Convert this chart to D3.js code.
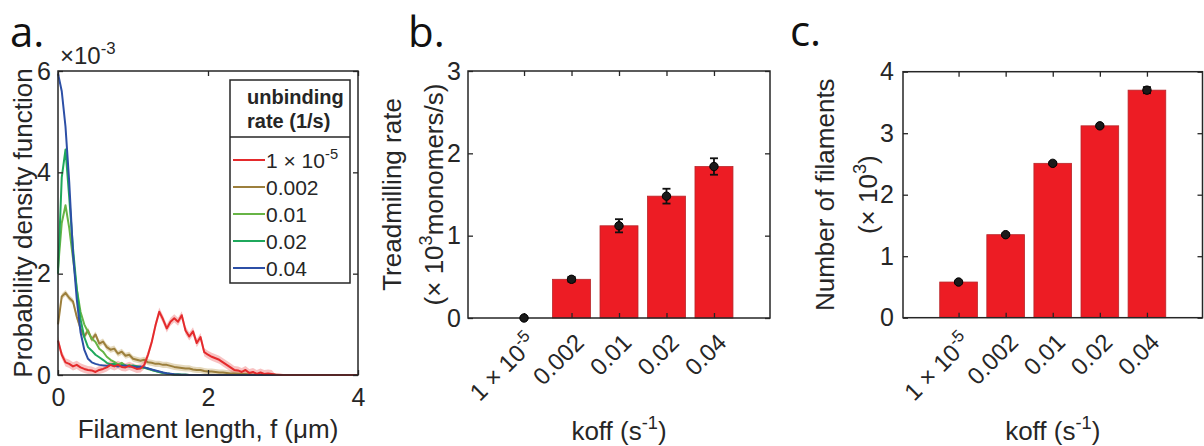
<!DOCTYPE html>
<html>
<head>
<meta charset="utf-8">
<script src="https://cdn.jsdelivr.net/npm/d3@7"></script>
<style>
  body { margin: 0; background: #fff; }
  text { font-family: "Liberation Sans", Arial, sans-serif; fill: #262626; }
  .panel-letter { font-family: "Open Sans", sans-serif; fill: #111; }
</style>
</head>
<body>
<svg id="fig" width="1204" height="446"></svg>
<script>
// ---- panel a data: filament length distribution (x 1e-3) ----
var lengthGrid = [0, 0.05, 0.1, 0.15, 0.2, 0.25, 0.3, 0.35, 0.4, 0.45, 0.5, 0.55, 0.6, 0.65, 0.7, 0.75, 0.8, 0.85, 0.9, 0.95,
  1, 1.05, 1.1, 1.15, 1.2, 1.25, 1.3, 1.35, 1.4, 1.45, 1.5, 1.55, 1.6, 1.65, 1.7, 1.75, 1.8, 1.85, 1.9, 1.95,
  2, 2.05, 2.1, 2.15, 2.2, 2.25, 2.3, 2.35, 2.4, 2.45, 2.5, 2.55, 2.6, 2.65, 2.7, 2.75, 2.8, 2.85, 2.9, 2.95, 3, 4];

var pdfRate1e5 = [0.68, 0.40, 0.25, 0.22, 0.17, 0.20, 0.15, 0.12, 0.10, 0.09, 0.06, 0.10, 0.12, 0.15, 0.20, 0.17, 0.20, 0.16, 0.15, 0.18,
  0.15, 0.12, 0.13, 0.20, 0.40, 0.65, 0.98, 1.25, 1.10, 0.92, 1.05, 1.12, 1.05, 1.18, 0.88, 0.76, 0.86, 0.63, 0.75, 0.45,
  0.40, 0.36, 0.33, 0.30, 0.25, 0.20, 0.15, 0.10, 0.09, 0.06, 0.10, 0.04, 0.06, 0.02, 0.05, 0.02, 0.03, 0.02, 0.01, 0.005, 0, 0];
var pdfRate002 = [1.0, 1.55, 1.62, 1.52, 1.45, 1.15, 0.92, 0.76, 0.88, 0.70, 0.80, 0.62, 0.66, 0.55, 0.50, 0.52, 0.42, 0.46, 0.38, 0.40,
  0.32, 0.30, 0.28, 0.30, 0.25, 0.24, 0.22, 0.22, 0.20, 0.20, 0.18, 0.16, 0.15, 0.14, 0.13, 0.13, 0.11, 0.10, 0.10, 0.08,
  0.07, 0.07, 0.06, 0.05, 0.05, 0.04, 0.03, 0.03, 0.025, 0.02, 0.02, 0.015, 0.01, 0.01, 0.008, 0.006, 0.005, 0.004, 0.003, 0.002, 0.001, 0];
var pdfRate01 = [2.1, 3.0, 3.35, 2.9, 2.3, 1.7, 1.25, 1.0, 0.85, 0.72, 0.65, 0.52, 0.46, 0.36, 0.30, 0.26, 0.21, 0.24, 0.18, 0.20,
  0.17, 0.18, 0.15, 0.14, 0.12, 0.10, 0.08, 0.06, 0.04, 0.03, 0.02, 0.012, 0.008, 0.005, 0.003, 0.002, 0.001, 0, 0, 0,
  0, 0, 0, 0, 0, 0, 0, 0, 0, 0, 0, 0, 0, 0, 0, 0, 0, 0, 0, 0, 0, 0];
var pdfRate02 = [2.0, 3.9, 4.45, 3.5, 2.5, 1.7, 1.1, 0.75, 0.55, 0.48, 0.40, 0.35, 0.30, 0.24, 0.21, 0.22, 0.18, 0.20, 0.18, 0.17,
  0.19, 0.17, 0.16, 0.15, 0.13, 0.10, 0.08, 0.06, 0.045, 0.03, 0.02, 0.012, 0.008, 0.005, 0.003, 0.002, 0.001, 0, 0, 0,
  0, 0, 0, 0, 0, 0, 0, 0, 0, 0, 0, 0, 0, 0, 0, 0, 0, 0, 0, 0, 0, 0];
var pdfRate04 = [5.95, 5.6, 4.9, 3.8, 2.4, 1.5, 0.85, 0.5, 0.32, 0.25, 0.22, 0.20, 0.19, 0.18, 0.20, 0.18, 0.17, 0.18, 0.19, 0.17,
  0.17, 0.16, 0.17, 0.15, 0.13, 0.11, 0.09, 0.07, 0.05, 0.035, 0.025, 0.015, 0.01, 0.006, 0.004, 0.002, 0.001, 0, 0, 0,
  0, 0, 0, 0, 0, 0, 0, 0, 0, 0, 0, 0, 0, 0, 0, 0, 0, 0, 0, 0, 0, 0];
// shaded spread (half width) for each curve
var pdfSpread = [0.08, 0.06, 0.03, 0.03, 0.03];

var rateLabels = ["1 × 10{-5}", "0.002", "0.01", "0.02", "0.04"];
var rateColors = ["#e42a2c", "#9c7f3c", "#67b446", "#1fa85c", "#2c4fa6"];
var bandColors = ["rgba(235,80,80,0.35)", "rgba(190,160,90,0.4)", "rgba(120,190,90,0.3)", "rgba(40,170,100,0.3)", "rgba(50,80,170,0.3)"];
var pdfSeries = [pdfRate1e5, pdfRate002, pdfRate01, pdfRate02, pdfRate04];

var aXTicks = [0, 2, 4];
var aYTicks = [0, 2, 4, 6];

// ---- panels b and c data ----
var koffLabels = ["1 × 10{-5}", "0.002", "0.01", "0.02", "0.04"];
var koffPos = [1, 2, 3, 4, 5];
var treadmill = [0, 0.47, 1.12, 1.48, 1.84];
var treadmillErr = [0.01, 0.03, 0.08, 0.09, 0.10];
var nFilaments = [0.58, 1.35, 2.51, 3.12, 3.70];
var nFilamentsErr = [0.02, 0.02, 0.02, 0.02, 0.05];
var bYTicks = [0, 1, 2, 3];
var cYTicks = [0, 1, 2, 3, 4];

var svg = d3.select("#fig");
var axisColor = "#262626";
var intFmt = d3.format("d");

// text with {superscript} parts
function rich(t, str, fs) {
  var shift = 0;
  str.split(/[{}]/).forEach(function(p, i) {
    if (!p) return;
    var sup = i % 2 === 1;
    var target = sup ? -fs * 0.42 : 0;
    var ts = t.append("tspan").attr("dy", target - shift).text(p);
    if (sup) ts.attr("font-size", fs * 0.7);
    shift = target;
  });
  return t;
}

function styleAxis(g, fs) {
  g.attr("font-size", fs).attr("color", axisColor);
  g.select(".domain").remove();
  g.selectAll(".tick line").attr("stroke-width", 1.3);
}

// ================= panel a =================
var xA = d3.scaleLinear().domain([0, 4]).range([58, 358]);
var yA = d3.scaleLinear().domain([0, 6]).range([375, 71]);

var gA = svg.append("g");

// shaded bands
var band = d3.area()
  .x(function(d, i) { return xA(lengthGrid[i]); })
  .y0(function(d) { return yA(Math.max(0, d.v - d.s)); })
  .y1(function(d) { return yA(d.v + d.s); });

[1, 0].forEach(function(k) {
  var rows = pdfSeries[k].map(function(v) { return { v: v, s: v > 0.01 ? pdfSpread[k] : 0 }; });
  gA.append("path").datum(rows).attr("d", band).attr("fill", bandColors[k]).attr("stroke", "none");
});

var line = d3.line()
  .x(function(d, i) { return xA(lengthGrid[i]); })
  .y(function(d) { return yA(d); });

[1, 2, 3, 4, 0].forEach(function(k) {
  gA.append("path").datum(pdfSeries[k])
    .attr("d", line)
    .attr("fill", "none")
    .attr("stroke", rateColors[k])
    .attr("stroke-width", 2)
    .attr("stroke-linejoin", "round");
});

gA.append("g").attr("transform", "translate(0," + yA(0) + ")")
  .call(d3.axisBottom(xA).tickValues(aXTicks).tickFormat(intFmt).tickSizeInner(-5).tickSizeOuter(0).tickPadding(13))
  .call(styleAxis, 25);
gA.append("g").attr("transform", "translate(0," + yA(6) + ")")
  .call(d3.axisTop(xA).tickValues(aXTicks).tickSizeInner(-5).tickSizeOuter(0).tickFormat(""))
  .call(styleAxis, 25);
gA.append("g").attr("transform", "translate(" + xA(0) + ",0)")
  .call(d3.axisLeft(yA).tickValues(aYTicks).tickFormat(intFmt).tickSizeInner(-5).tickSizeOuter(0).tickPadding(7))
  .call(styleAxis, 25);
gA.append("g").attr("transform", "translate(" + xA(4) + ",0)")
  .call(d3.axisRight(yA).tickValues(aYTicks).tickSizeInner(-5).tickSizeOuter(0).tickFormat(""))
  .call(styleAxis, 25);

gA.append("rect")
  .attr("x", xA(0)).attr("y", yA(6))
  .attr("width", xA(4) - xA(0)).attr("height", yA(0) - yA(6))
  .attr("fill", "none").attr("stroke", axisColor).attr("stroke-width", 1.5);

rich(gA.append("text").attr("x", 60).attr("y", 64).attr("font-size", 24), "×10{-3}", 24);

gA.append("text")
  .attr("transform", "translate(32," + ((yA(0) + yA(6)) / 2) + ") rotate(-90)")
  .attr("text-anchor", "middle").attr("font-size", 26)
  .text("Probability density function");

gA.append("text")
  .attr("x", (xA(0) + xA(4)) / 2).attr("y", 438)
  .attr("text-anchor", "middle").attr("font-size", 26)
  .text("Filament length, f (μm)");

// legend
var leg = gA.append("g");
leg.append("rect").attr("x", 230).attr("y", 80).attr("width", 120).attr("height", 203)
  .attr("fill", "#fff").attr("stroke", axisColor).attr("stroke-width", 1.5);
leg.append("line").attr("x1", 230).attr("x2", 350).attr("y1", 137).attr("y2", 137)
  .attr("stroke", axisColor).attr("stroke-width", 1.3);
leg.append("text").attr("x", 247).attr("y", 104).attr("font-size", 20).attr("font-weight", "bold").text("unbinding");
leg.append("text").attr("x", 247).attr("y", 128).attr("font-size", 20).attr("font-weight", "bold").text("rate (1/s)");
rateLabels.forEach(function(lab, i) {
  var yy = 160 + i * 27;
  leg.append("line").attr("x1", 233).attr("x2", 265).attr("y1", yy).attr("y2", yy)
    .attr("stroke", rateColors[i]).attr("stroke-width", 2);
  rich(leg.append("text").attr("x", 266).attr("y", yy + 7.5).attr("font-size", 21), lab, 21);
});

// ================= bar panels =================
function barPanel(opts) {
  var x = d3.scaleLinear().domain([-0.18, 6.18]).range([opts.left, opts.right]);
  var y = d3.scaleLinear().domain([0, opts.ymax]).range([opts.bottom, opts.top]);
  var g = svg.append("g");
  var bw = x(0.8) - x(0);

  g.selectAll(".bar")
    .data(opts.values)
    .enter().append("rect")
    .attr("class", "bar")
    .attr("x", function(d, i) { return x(koffPos[i]) - bw / 2; })
    .attr("y", function(d) { return y(d); })
    .attr("width", bw)
    .attr("height", function(d) { return y(0) - y(d); })
    .attr("fill", "#ed1c24")
    .attr("stroke", "#b8262a")
    .attr("stroke-width", 0.8);

  g.append("g").attr("transform", "translate(0," + y(0) + ")")
    .call(d3.axisBottom(x).tickValues(koffPos).tickSizeInner(-5).tickSizeOuter(0).tickFormat(""))
    .call(styleAxis, 25);
  g.append("g").attr("transform", "translate(0," + y(opts.ymax) + ")")
    .call(d3.axisTop(x).tickValues(koffPos).tickSizeInner(-5).tickSizeOuter(0).tickFormat(""))
    .call(styleAxis, 25);
  g.append("g").attr("transform", "translate(" + opts.left + ",0)")
    .call(d3.axisLeft(y).tickValues(opts.yticks).tickFormat(intFmt).tickSizeInner(-5).tickSizeOuter(0).tickPadding(opts.pad))
    .call(styleAxis, 25);
  g.append("g").attr("transform", "translate(" + opts.right + ",0)")
    .call(d3.axisRight(y).tickValues(opts.yticks).tickSizeInner(-5).tickSizeOuter(0).tickFormat(""))
    .call(styleAxis, 25);

  g.append("rect")
    .attr("x", opts.left).attr("y", opts.top)
    .attr("width", opts.right - opts.left).attr("height", opts.bottom - opts.top)
    .attr("fill", "none").attr("stroke", axisColor).attr("stroke-width", 1.5);

  // error bars and means
  opts.values.forEach(function(v, i) {
    var cx = x(koffPos[i]), e = opts.errors[i];
    g.append("line").attr("x1", cx).attr("x2", cx).attr("y1", y(v - e)).attr("y2", y(v + e))
      .attr("stroke", "#111").attr("stroke-width", 1.8);
    [v - e, v + e].forEach(function(w) {
      g.append("line").attr("x1", cx - 4).attr("x2", cx + 4).attr("y1", y(w)).attr("y2", y(w))
        .attr("stroke", "#111").attr("stroke-width", 1.8);
    });
    g.append("circle").attr("cx", cx).attr("cy", y(v)).attr("r", 4.2)
      .attr("fill", "#1a1a1a").attr("stroke", "#000").attr("stroke-width", 1);
  });

  // rotated category labels
  koffLabels.forEach(function(lab, i) {
    var t = g.append("text")
      .attr("transform", "translate(" + (x(koffPos[i]) + 14) + "," + (y(0) + 26) + ") rotate(-45)")
      .attr("text-anchor", "end").attr("font-size", 24);
    rich(t, lab, 24);
  });

  rich(g.append("text")
    .attr("x", (opts.left + opts.right) / 2).attr("y", 440)
    .attr("text-anchor", "middle").attr("font-size", 26), "koff (s{-1})", 26);

  var cy = (opts.top + opts.bottom) / 2;
  g.append("text")
    .attr("transform", "translate(" + opts.lab1 + "," + cy + ") rotate(-90)")
    .attr("text-anchor", "middle").attr("font-size", 26)
    .text(opts.title1);
  rich(g.append("text")
    .attr("transform", "translate(" + opts.lab2 + "," + cy + ") rotate(-90)")
    .attr("text-anchor", "middle").attr("font-size", 26), opts.title2, 26);
}

barPanel({ left: 468, right: 770, top: 71, bottom: 318, ymax: 3, yticks: bYTicks, pad: 7,
  values: treadmill, errors: treadmillErr, lab1: 401, lab2: 443,
  title1: "Treadmilling rate", title2: "(× 10{3}monomers/s)" });
barPanel({ left: 903, right: 1202.5, top: 71.7, bottom: 317.7, ymax: 4, yticks: cYTicks, pad: 9,
  values: nFilaments, errors: nFilamentsErr, lab1: 834, lab2: 877,
  title1: "Number of filaments", title2: "(× 10{3})" });

// panel letters
svg.append("text").attr("class", "panel-letter").attr("x", 10).attr("y", 47).attr("font-size", 42).text("a.");
svg.append("text").attr("class", "panel-letter").attr("x", 408).attr("y", 47).attr("font-size", 42).text("b.");
svg.append("text").attr("class", "panel-letter").attr("x", 790).attr("y", 46).attr("font-size", 42).text("c.");
</script>
</body>
</html>
